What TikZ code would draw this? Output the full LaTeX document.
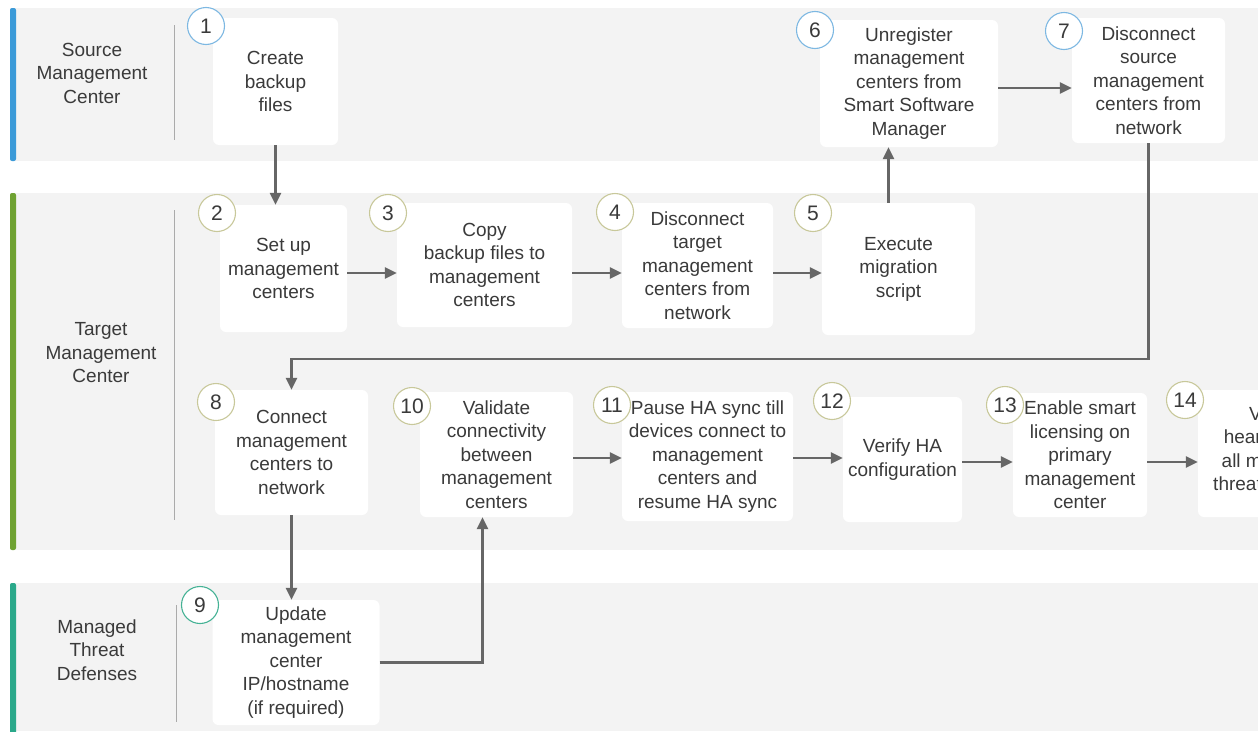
\documentclass[tikz,border=0pt]{standalone}
\usepackage{fontspec}
\setmainfont{Liberation Sans}
\usetikzlibrary{arrows.meta,positioning}

\definecolor{lanegray}{HTML}{F3F3F3}
\definecolor{srcblue}{HTML}{3B9AD8}
\definecolor{tgtgreen}{HTML}{6FA232}
\definecolor{mtdteal}{HTML}{2AA88A}
\definecolor{srcring}{HTML}{7DB8E2}
\definecolor{tgtring}{HTML}{C8C89A}
\definecolor{mtdring}{HTML}{45B295}
\definecolor{flowgray}{HTML}{666666}
\definecolor{inkgray}{HTML}{3A3A3A}
\definecolor{rulegray}{HTML}{AAAAAA}

\tikzset{
  lane/.style = {fill=lanegray},
  lanebar/.style = {fill=#1, rounded corners=2pt},
  lanename/.style = {align=center, text=inkgray, font={\fontsize{19}{23.5}\selectfont}},
  divider/.style = {draw=rulegray, line width=1pt},
  stepbox/.style = {fill=white, rounded corners=6pt, inner sep=0pt, align=center,
                    text=inkgray, font={\fontsize{19}{23.5}\selectfont}},
  stepnum/.style = {circle, draw=#1, fill=white, line width=1.1pt, minimum size=37pt,
                    inner sep=0pt, text=inkgray, font={\fontsize{21}{21}\selectfont}},
  flow/.style = {draw=flowgray, line width=2.4pt, -{Triangle[length=12pt,width=11pt]}}
}

\begin{document}
\begin{tikzpicture}[x=1pt,y=-1pt]

\useasboundingbox (0,0) rectangle (1258,731);
\clip (0,0) rectangle (1258,731);
\fill[white] (0,0) rectangle (1258,731);

% lanes
\fill[lane] (10,8) rectangle (1258,161);
\fill[lane] (10,193) rectangle (1258,550);
\fill[lane] (10,583) rectangle (1258,731);
\fill[lanebar=srcblue] (10,8) rectangle (16,161);
\fill[lanebar=tgtgreen] (10,193) rectangle (16,550);
\fill[lanebar=mtdteal] (10,583) rectangle (16,735);

\node[lanename] (srclane) at (92,73) {Source\\Management\\Center};
\node[lanename] (tgtlane) at (101,353) {Target\\Management\\Center};
\node[lanename] (mtdlane) at (97,650) {Managed\\Threat\\Defenses};
\draw[divider] (174,25) -- (174,140);
\draw[divider] (174,210) -- (174,520);
\draw[divider] (176,605) -- (176,722);

% steps
\node[stepbox, minimum width=125, minimum height=127] (b1) at (275.5,81.5) {Create\\backup\\files};
\node[stepbox, minimum width=178, minimum height=127] (b6) at (909,83.5) {Unregister\\management\\centers from\\Smart Software\\Manager};
\node[stepbox, minimum width=153, minimum height=125] (b7) at (1148.5,80.5) {Disconnect\\source\\management\\centers from\\network};

\node[stepbox, minimum width=127, minimum height=127] (b2) at (283.5,268.5) {Set up\\management\\centers};
\node[stepbox, minimum width=175, minimum height=124] (b3) at (484.5,265) {Copy\\backup files to\\management\\centers};
\node[stepbox, minimum width=151, minimum height=125] (b4) at (697.5,265.5) {Disconnect\\target\\management\\centers from\\network};
\node[stepbox, minimum width=153, minimum height=132] (b5) at (898.5,269) {Execute\\migration\\script};

\node[stepbox, minimum width=153, minimum height=125] (b8) at (291.5,452.5) {Connect\\management\\centers to\\network};
\node[stepbox, minimum width=153, minimum height=125] (b10) at (496.5,454.5) {Validate\\connectivity\\between\\management\\centers};
\node[stepbox, minimum width=171, minimum height=129] (b11) at (707.5,456.5) {Pause HA sync till\\devices connect to\\management\\centers and\\resume HA sync};
\node[stepbox, minimum width=119, minimum height=125] (b12) at (902.5,459.5) {Verify HA\\configuration};
\node[stepbox, minimum width=134, minimum height=124] (b13) at (1080,455) {Enable smart\\licensing on\\primary\\management\\center};
\node[stepbox, minimum width=156, minimum height=127] (b14) at (1276,453.5) {};
\node[stepbox, fill=none, align=right, anchor=east] (t14) at (1262,449) {V\\hear\\all m\\threat};

\node[stepbox, minimum width=167, minimum height=125] (b9) at (296,662.5) {Update\\management\\center\\IP/hostname\\(if required)};

% step numbers
\foreach \n/\x/\y/\c in {1/206/26/srcring, 6/815/30/srcring, 7/1064/31/srcring,
    2/217/213/tgtring, 3/388/213/tgtring, 4/615/212/tgtring, 5/813/213/tgtring,
    8/216/402/tgtring, 10/412/406/tgtring, 11/612/405/tgtring, 12/832/401/tgtring,
    13/1005/405/tgtring, 14/1185/400/tgtring, 9/200/605/mtdring}
  \node[stepnum=\c] (n\n) at (\x,\y) {\n};

% flow
\draw[flow] (b1.south) -- (b1.south |- b2.north);
\foreach \a/\b/\y in {2/3/273, 3/4/273, 4/5/273, 6/7/88,
    10/11/458, 11/12/458, 12/13/462, 13/14/462}
  \draw[flow] (b\a.east |- 0,\y) -- (b\b.west |- 0,\y);

\coordinate (up56) at ([xshift=-10pt]b5.north);
\draw[flow] (up56) -- (up56 |- b6.south);

\coordinate (bend78) at (b7.south |- 0,359);
\draw[flow] (b7.south) -- (bend78) -| (b8.north);

\draw[flow] (b8.south) -- (b8.south |- b9.north);

\coordinate (in10) at ([xshift=-14pt]b10.south);
\draw[flow] (b9.east) -| (in10);

\end{tikzpicture}
\end{document}
